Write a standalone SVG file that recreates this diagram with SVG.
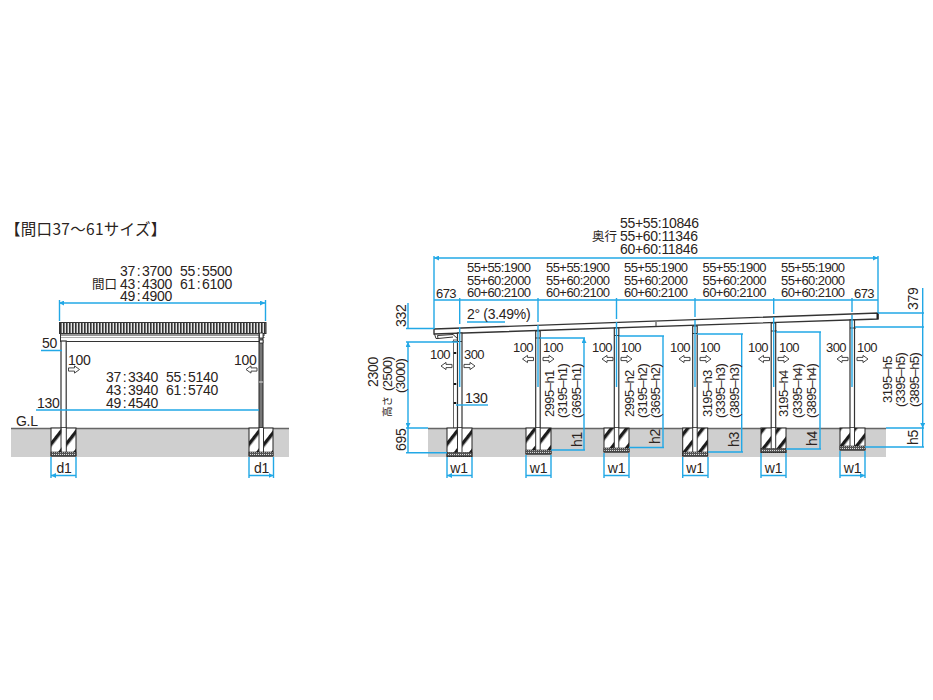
<svg xmlns="http://www.w3.org/2000/svg" width="933" height="700" viewBox="0 0 933 700">
<style>
text{font-family:"Liberation Sans","Noto Sans CJK JP",sans-serif;font-size:13px;letter-spacing:-.55px;fill:#2a2320}
text.w{font-size:14px;letter-spacing:-.3px}
tspan.c{font-size:14px}
.jp{font-family:"Noto Sans CJK JP",sans-serif;letter-spacing:0}
.b{stroke:#22a8e6;stroke-width:1.4;fill:none}
.a{marker-start:url(#ah);marker-end:url(#ah)}
.p{fill:#fff;stroke:#333;stroke-width:1.2}
.d{stroke:#333;stroke-width:1;fill:none}
.f{fill:url(#hatch);stroke:#222;stroke-width:1}
.ft{fill:url(#dots);stroke:#222;stroke-width:.6}
.ar{fill:#fff;stroke:#333;stroke-width:.9}
</style>
<defs>
<marker id="ah" viewBox="0 0 6 6" refX="6" refY="3" markerWidth="5" markerHeight="5" markerUnits="userSpaceOnUse" orient="auto-start-reverse"><path d="M0 0L6 3L0 6Z" fill="#22a8e6"/></marker>
<pattern id="hatch" width="12" height="16" patternUnits="userSpaceOnUse" patternTransform="rotate(38)"><rect width="12" height="16" fill="#fff"/><rect width="3.400" height="16" fill="#1c1c1c"/></pattern>
<pattern id="dots" width="2" height="2" patternUnits="userSpaceOnUse"><rect width="2" height="2" fill="#555"/><rect width="1" height="1" fill="#ddd"/></pattern>
<pattern id="ribs" width="3" height="12" patternUnits="userSpaceOnUse"><rect width="3" height="12" fill="#e4e4e4"/><rect width="1.600" height="12" fill="#333"/></pattern>
<path id="ar" class="ar" d="M0 -1.600H6V-3.600L11 0L6 3.600V1.600H0Z"/>
<path id="al" class="ar" d="M11 -1.600H5V-3.600L0 0L5 3.600V1.600H11Z"/>
</defs>
<rect width="933" height="700" fill="#fff"/>
<text class="jp" x="5" y="235" style="font-size:15.500px;letter-spacing:.3px">【間口37～61サイズ】</text>

<g id="ground">
<rect x="11" y="428" width="278" height="29" fill="#cfcfcf"/>
<rect x="428" y="428" width="458" height="29" fill="#cfcfcf"/>
<path d="M11 428.500H289M428 428.500H886" stroke="#666" stroke-width="1.400"/>
</g>

<g id="front-view">
<rect x="59.500" y="322.500" width="206.500" height="11" fill="url(#ribs)" stroke="#333" stroke-width="1"/>
<path class="d" d="M60 335H265M60 341.500H262M60.500 334V341"/>
<path class="d" d="M60 337.500H265" stroke-opacity=".4"/>
<rect class="p" x="61" y="341" width="5.200" height="87"/>
<rect x="259" y="335" width="4" height="93" fill="#777" stroke="#222" stroke-width="1"/>
<path d="M259.500 333h3.500v5h-3.500zM259.500 340h3.500v3h-3.500z" fill="#fff" stroke="#222" stroke-width=".8"/>
<path d="M259 382h4" stroke="#fff" stroke-width=".8"/>
<g id="front-footing-left"><rect class="f" x="51" y="428" width="25" height="28"/><rect x="61.500" y="428" width="4.500" height="24" fill="#fff"/><path class="d" d="M61 428V452M66.300 428V452"/><rect class="ft" x="51" y="452" width="25" height="4"/></g>
<g id="front-footing-right"><rect class="f" x="249" y="428" width="24" height="28"/><rect x="259" y="428" width="4.500" height="24" fill="#fff"/><path class="d" d="M259 428V452M263.500 428V452"/><rect class="ft" x="249" y="452" width="24" height="4"/></g>
<use href="#ar" x="68.500" y="369.500"/>
<use href="#al" x="246" y="369.500"/>
</g>

<g id="side-view">
<path d="M434 329L878 313V319L434 334Z" fill="#fff" stroke="#333" stroke-width="1.400"/>
<path d="M876.500 313.500h2v5.500h-2z" fill="#222"/>
<path class="d" d="M656 322V327M434.500 334L436 338.500H438L437.500 335.500L453 334.500L458 339" />
<path class="d" d="M438 338.500L453 337"/>
<g id="post-1"><rect x="453.500" y="340" width="4" height="88" fill="#fff" stroke="#555" stroke-width=".9"/><rect class="p" x="457.500" y="333" width="4.500" height="95"/><path d="M455 352v2M455 383v2M455 402v2" stroke="#111" stroke-width="2.500"/><path class="d" d="M452 341.500H462"/></g>
<g id="post-2"><rect class="p" x="535.700" y="331" width="4.500" height="97"/><path class="d" d="M535 338H541"/></g>
<g id="post-3"><rect class="p" x="614.300" y="328" width="4.500" height="100"/><path class="d" d="M614 335.500H620"/></g>
<g id="post-4"><rect class="p" x="692.700" y="326" width="4.500" height="102"/><path class="d" d="M692 333.500H698"/></g>
<g id="post-5"><rect class="p" x="771.200" y="323" width="4.500" height="105"/><path class="d" d="M771 331H777"/></g>
<g id="post-6"><rect class="p" x="850" y="320" width="4.500" height="108"/><path class="d" d="M850 328H856"/></g>
<g id="footing-1"><rect class="f" x="447" y="428" width="25" height="28.500"/><rect x="457.500" y="428" width="4.500" height="24" fill="#fff"/><path class="d" d="M457.500 428V452M462 428V452"/><rect class="ft" x="447" y="452.500" width="25" height="4"/></g>
<g id="footing-2"><rect class="f" x="526" y="428" width="25" height="26"/><rect x="535.700" y="428" width="4.500" height="22" fill="#fff"/><path class="d" d="M535.700 428V450M540.200 428V450"/><rect class="ft" x="526" y="450" width="25" height="4"/></g>
<g id="footing-3"><rect class="f" x="604" y="428" width="25" height="24"/><rect x="614.300" y="428" width="4.500" height="20" fill="#fff"/><path class="d" d="M614.300 428V448M618.800 428V448"/><rect class="ft" x="604" y="448" width="25" height="4"/></g>
<g id="footing-4"><rect class="f" x="682.700" y="428" width="25" height="28"/><rect x="692.700" y="428" width="4.500" height="24" fill="#fff"/><path class="d" d="M692.700 428V452M697.200 428V452"/><rect class="ft" x="682.700" y="452" width="25" height="4"/></g>
<g id="footing-5"><rect class="f" x="761" y="428" width="25" height="24.500"/><rect x="771.200" y="428" width="4.500" height="20.500" fill="#fff"/><path class="d" d="M771.200 428V448.500M775.700 428V448.500"/><rect class="ft" x="761" y="448.500" width="25" height="4"/></g>
<g id="footing-6"><rect class="f" x="840" y="428" width="25" height="22"/><rect x="850" y="428" width="4.500" height="18" fill="#fff"/><path class="d" d="M850 428V446M854.500 428V446"/><rect class="ft" x="840" y="446" width="25" height="4"/></g>
<g id="hollow-arrows">
<use href="#al" x="441" y="366"/><use href="#ar" x="464" y="366"/>
<use href="#al" x="522.500" y="359"/><use href="#ar" x="543" y="359"/>
<use href="#al" x="602" y="359"/><use href="#ar" x="621" y="359"/>
<use href="#al" x="679" y="359"/><use href="#ar" x="700" y="359"/>
<use href="#al" x="758.500" y="359"/><use href="#ar" x="778" y="359"/>
<use href="#al" x="837" y="359"/><use href="#ar" x="857" y="359"/>
</g>
</g>

<g id="connectors">
<path class="b a" d="M59 303H265"/>
<path class="b" d="M59.500 300V321M265.500 300V321"/>
<path class="b" d="M41 350.500H62M36 410H259"/>
<path class="b a" d="M51 475.500H76M249 475.500H273.500"/>
<path class="b" d="M51 457V478M76 457V478M249 457V478M273.500 457V478"/>

<path class="b a" d="M434 258H878"/>
<path class="b" d="M434 256V329M878 256V313M434 300H878"/>
<path class="b" d="M459.700 298V324M459.700 327V387M538 298V322M538 325V387M616.500 298V319M616.500 322V387M695 298V317M695 320V387M773.700 298V314M773.700 317V387M852 298V312M852 315V387"/>
<path class="b" d="M467 322H505"/>
<path class="b" d="M408 303V328M406 328.500H434M406 342H458M406 428H428M406 452.700H447"/>
<path class="b a" d="M408 342V428"/>
<path class="b" d="M408 428V452.700"/>
<path class="b" d="M456 405H488"/>
<path class="b a" d="M447 475.500H472M526 475.500H551M604 475.500H629M682.700 475.500H708M761 475.500H786M840 475.500H865"/>
<path class="b" d="M447 457V478M472 457V478M526 455V478M551 455V478M604 453V478M629 453V478M682.700 457V478M708 457V478M761 453V478M786 453V478M840 451V478M865 451V478"/>
<path class="b a" d="M584 338V428M663 336V428M741.700 334V428M820 332V428M922.700 327V428"/>
<path class="b" d="M584 428V450M663 428V447.500M741.700 428V452M820 428V449M922.700 428V447M922.700 288V327"/>
<path class="b" d="M540 338H585M551 450H585M619 336H664M629 447.500H664M697 334H743M708 452H743M776 332H821M786 449H821M855 327H924M865 447H924M886 428H924M878 313H924"/>
</g>

<g id="labels-front">
<text class="w" x="120" y="276">37<tspan dx="1.700">:</tspan><tspan dx="1.700">3700</tspan></text><text class="w" x="180" y="276">55<tspan dx="1.700">:</tspan><tspan dx="1.700">5500</tspan></text>
<text class="jp" x="92" y="288.500" style="font-size:12.500px">間口</text>
<text class="w" x="120" y="288.500">43<tspan dx="1.700">:</tspan><tspan dx="1.700">4300</tspan></text><text class="w" x="180" y="288.500">61<tspan dx="1.700">:</tspan><tspan dx="1.700">6100</tspan></text>
<text class="w" x="120" y="301">49<tspan dx="1.700">:</tspan><tspan dx="1.700">4900</tspan></text>
<text class="w" x="42" y="348">50</text>
<text class="w" x="68" y="365">100</text><text class="w" x="234" y="365">100</text>
<text class="w" x="106" y="382">37<tspan dx="1.700">:</tspan><tspan dx="1.700">3340</tspan></text><text class="w" x="166" y="382">55<tspan dx="1.700">:</tspan><tspan dx="1.700">5140</tspan></text>
<text class="w" x="106" y="395">43<tspan dx="1.700">:</tspan><tspan dx="1.700">3940</tspan></text><text class="w" x="166" y="395">61<tspan dx="1.700">:</tspan><tspan dx="1.700">5740</tspan></text>
<text class="w" x="106" y="407.500">49<tspan dx="1.700">:</tspan><tspan dx="1.700">4540</tspan></text>
<text class="w" x="37" y="407.500">130</text>
<text class="w" x="16" y="426">G.L</text>
<text class="w" x="56.500" y="473">d1</text><text class="w" x="254" y="473">d1</text>
</g>

<g id="labels-side">
<text class="w" x="620" y="228">55+55:10846</text><text class="w" x="620" y="241">55+60:11346</text><text class="w" x="620" y="253.500">60+60:11846</text>
<text class="jp" x="592" y="241" style="font-size:12.500px">奥行</text>
<text x="467" y="272">55+55:1900</text><text x="467" y="284.500">55+60:2000</text><text x="467" y="297">60+60:2100</text>
<text x="546" y="272">55+55:1900</text><text x="546" y="284.500">55+60:2000</text><text x="546" y="297">60+60:2100</text>
<text x="624" y="272">55+55:1900</text><text x="624" y="284.500">55+60:2000</text><text x="624" y="297">60+60:2100</text>
<text x="702.500" y="272">55+55:1900</text><text x="702.500" y="284.500">55+60:2000</text><text x="702.500" y="297">60+60:2100</text>
<text x="781" y="272">55+55:1900</text><text x="781" y="284.500">55+60:2000</text><text x="781" y="297">60+60:2100</text>
<text x="436" y="298">673</text><text x="854" y="298">673</text>
<text class="w" x="467" y="319">2° (3.49%)</text>
<text x="430" y="359">100</text><text x="464" y="359">300</text><text class="w" x="465" y="403">130</text>
<text x="513" y="352">100</text><text x="543" y="352">100</text>
<text x="592" y="352">100</text><text x="621" y="352">100</text>
<text x="670" y="352">100</text><text x="700" y="352">100</text>
<text x="748" y="352">100</text><text x="779" y="352">100</text>
<text x="826" y="352">300</text><text x="857" y="352">100</text>
<text class="w" x="459" y="473" text-anchor="middle">w1</text>
<text class="w" x="538.500" y="473" text-anchor="middle">w1</text><text class="w" x="616.500" y="473" text-anchor="middle">w1</text><text class="w" x="695" y="473" text-anchor="middle">w1</text><text class="w" x="773.500" y="473" text-anchor="middle">w1</text><text class="w" x="852.500" y="473" text-anchor="middle">w1</text>
<text class="w" transform="translate(406 327) rotate(-90)">332</text>
<text class="w" transform="translate(378 387) rotate(-90)">2300</text>
<text transform="translate(391.500 391) rotate(-90)">(2500)</text>
<text transform="translate(405 393) rotate(-90)">(3000)</text>
<text class="jp" transform="translate(391 417) rotate(-90)" style="font-size:10.500px">高さ</text>
<text class="w" transform="translate(406 451) rotate(-90)">695</text>
<text transform="translate(554 417) rotate(-90)">2995–h1</text><text transform="translate(567 418) rotate(-90)">(3195–h1)</text><text transform="translate(581 418) rotate(-90)">(3695–h1)</text>
<text transform="translate(633.500 417) rotate(-90)">2995–h2</text><text transform="translate(646.500 418) rotate(-90)">(3195–h2)</text><text transform="translate(660 418) rotate(-90)">(3695–h2)</text>
<text transform="translate(712 417) rotate(-90)">3195–h3</text><text transform="translate(725 418) rotate(-90)">(3395–h3)</text><text transform="translate(739 418) rotate(-90)">(3895–h3)</text>
<text transform="translate(788 417) rotate(-90)">3195–h4</text><text transform="translate(801.500 418) rotate(-90)">(3395–h4)</text><text transform="translate(815.500 418) rotate(-90)">(3895–h4)</text>
<text transform="translate(891.500 403) rotate(-90)">3195–h5</text><text transform="translate(905 407) rotate(-90)">(3395–h5)</text><text transform="translate(919 407) rotate(-90)">(3895–h5)</text>
<text class="w" transform="translate(582 447) rotate(-90)">h1</text><text class="w" transform="translate(660 444) rotate(-90)">h2</text><text class="w" transform="translate(739 447) rotate(-90)">h3</text><text class="w" transform="translate(816.500 446) rotate(-90)">h4</text><text class="w" transform="translate(918 445) rotate(-90)">h5</text>
<text class="w" transform="translate(918 310) rotate(-90)">379</text>
</g>
</svg>
